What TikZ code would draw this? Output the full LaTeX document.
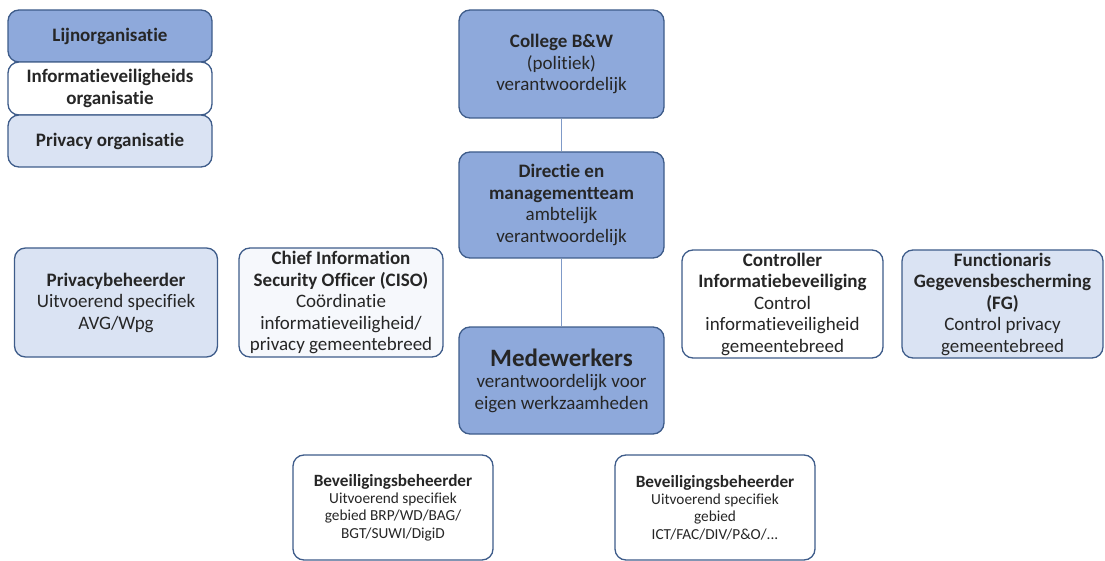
\documentclass[tikz,border=0pt]{standalone}
\usepackage{fontspec}
\setmainfont{Carlito}[Ligatures=NoCommon]
\definecolor{darkfill}{HTML}{8EA9DB}
\definecolor{lightfill}{HTML}{DAE3F3}
\definecolor{edge}{HTML}{3E5C8A}
\definecolor{linec}{HTML}{7F9AC8}
\tikzset{
  box/.style={draw=edge, line width=1.3pt, rounded corners=11pt, align=center, inner sep=0pt, text=black!85},
  dark/.style={box, fill=darkfill},
  light/.style={box, fill=lightfill},
  white/.style={box, fill=white},
  conn/.style={draw=linec, line width=1pt}
}
\newcommand{\tx}{\fontsize{19}{21.5}\selectfont}
\newcommand{\sm}{\fontsize{15.3}{17.3}\selectfont}
\begin{document}
\begin{tikzpicture}[x=1pt,y=-1pt]
\useasboundingbox (0,0) rectangle (1105,561);
% legend
\node[dark, minimum width=204pt, minimum height=52pt, font=\tx\bfseries] (leg1) at (110,36) {Lijnorganisatie};
\node[white, minimum width=204pt, minimum height=53pt, font=\tx\bfseries] (leg2) at (110,88.5) {Informatieveiligheids\\organisatie};
\node[light, minimum width=204pt, minimum height=52pt, font=\tx\bfseries] (leg3) at (110,141) {Privacy organisatie};
% line organisation
\node[dark, minimum width=205pt, minimum height=108pt, font=\tx] (college) at (561.5,64) {\textbf{College B\&W}\\(politiek)\\verantwoordelijk};
\node[dark, minimum width=205pt, minimum height=106pt, font=\tx] (directie) at (561.5,205) {\textbf{Directie en}\\\textbf{managementteam}\\ambtelijk\\verantwoordelijk};
\node[dark, minimum width=205pt, minimum height=107pt, font=\tx] (mede) at (561.5,380.5) {{\fontsize{25}{26}\selectfont\textbf{Medewerkers}}\\verantwoordelijk voor\\eigen werkzaamheden};
\draw[conn] (college) -- (directie);
\draw[conn] (directie) -- (mede);
% side boxes
\node[light, minimum width=203pt, minimum height=109pt, font=\tx] (privacy) at (116,302.5) {\textbf{Privacybeheerder}\\Uitvoerend specifiek\\AVG/Wpg};
\node[white, fill=lightfill!25, minimum width=204pt, minimum height=109pt, font=\tx] (ciso) at (341,302.5) {\textbf{Chief Information}\\\textbf{Security Officer (CISO)}\\Coördinatie\\informatieveiligheid/\\privacy gemeentebreed};
\node[white, minimum width=201pt, minimum height=108pt, font=\tx] (controller) at (782.5,304) {\textbf{Controller}\\\textbf{Informatiebeveiliging}\\Control\\informatieveiligheid\\gemeentebreed};
\node[light, minimum width=201pt, minimum height=108pt, font=\tx] (fg) at (1002.5,304) {\textbf{Functionaris}\\\textbf{Gegevensbescherming}\\\textbf{(FG)}\\Control privacy\\gemeentebreed};
% bottom boxes
\node[white, minimum width=200pt, minimum height=105pt, font=\sm] (bev1) at (393,507.5) {{\fontsize{17.2}{21}\selectfont\textbf{Beveiligingsbeheerder}}\\Uitvoerend specifiek\\gebied BRP/WD/BAG/\\BGT/SUWI/DigiD};
\node[white, minimum width=200pt, minimum height=105pt, font=\sm] (bev2) at (715,507.5) {{\fontsize{17.2}{21}\selectfont\textbf{Beveiligingsbeheerder}}\\Uitvoerend specifiek\\gebied\\ICT/FAC/DIV/P\&O/...};
\end{tikzpicture}
\end{document}
